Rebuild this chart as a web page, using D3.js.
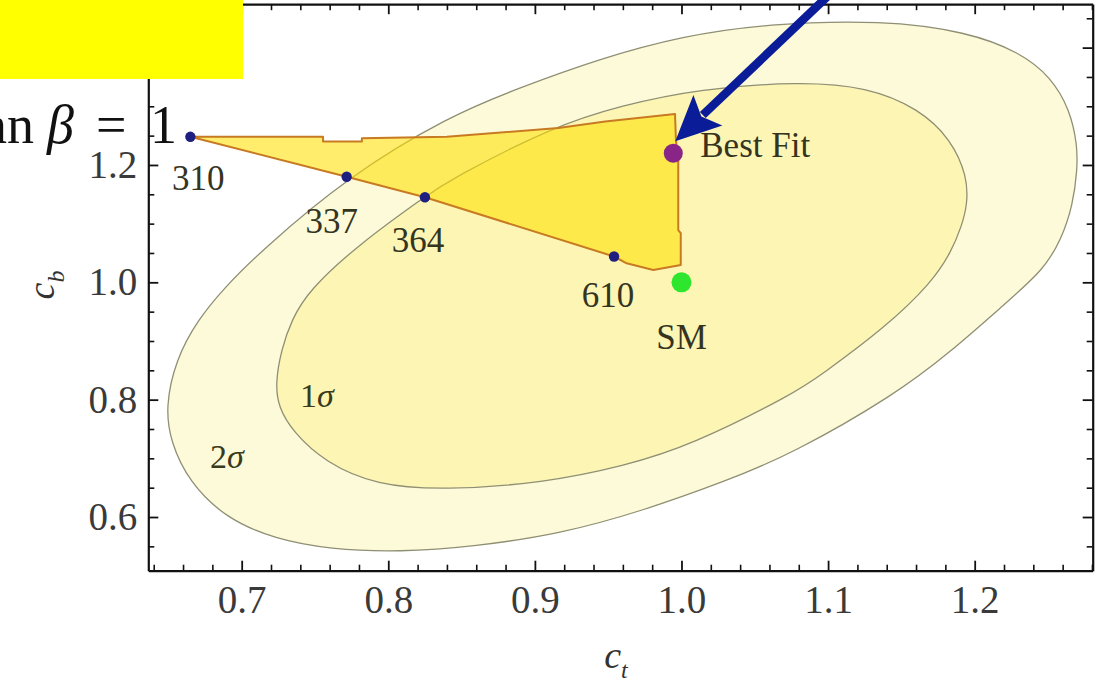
<!DOCTYPE html>
<html>
<head>
<meta charset="utf-8">
<script src="https://cdn.jsdelivr.net/npm/d3@7"></script>
<style>
  html, body { margin: 0; padding: 0; background: #ffffff; }
  svg { display: block; font-family: "Liberation Serif", "Times New Roman", serif; }
</style>
</head>
<body>
<svg id="chart" width="1105" height="682"></svg>
<script>
// ---- data -------------------------------------------------------------
const ctTicks = [0.7, 0.8, 0.9, 1.0, 1.1, 1.2];
const cbTicks = [0.6, 0.8, 1.0, 1.2, 1.4];
const ctRange = [0.6363, 1.2805];
const cbRange = [0.5085, 1.474];

// 2-sigma contour of the (c_t, c_b) fit
const contour2Sigma = [
  [0.648, 0.7875], [0.655, 0.868], [0.670, 0.936], [0.688, 0.990], [0.7125, 1.052],
  [0.772, 1.1795], [0.842, 1.284], [0.888, 1.330], [0.944, 1.381], [1.001, 1.420],
  [1.058, 1.4405], [1.137, 1.447], [1.195, 1.427], [1.231, 1.392], [1.252, 1.350],
  [1.265, 1.294], [1.270, 1.234], [1.270, 1.192], [1.267, 1.132], [1.259, 1.072],
  [1.2465, 1.020], [1.2207, 0.9635], [1.1831, 0.8805], [1.146, 0.809], [1.075, 0.707],
  [1.030, 0.661], [0.973, 0.610], [0.9165, 0.5707], [0.859, 0.550], [0.808, 0.540],
  [0.760, 0.545], [0.723, 0.562], [0.689, 0.598], [0.664, 0.660], [0.6515, 0.728]
];

// 1-sigma contour
const contour1Sigma = [
  [0.723, 0.828], [0.727, 0.885], [0.734, 0.936], [0.746, 0.987], [0.780, 1.065],
  [0.825, 1.146], [0.842, 1.175], [0.912, 1.265], [0.958, 1.301], [1.0126, 1.330],
  [1.081, 1.342], [1.1265, 1.333], [1.162, 1.296], [1.184, 1.2435], [1.195, 1.180],
  [1.195, 1.132], [1.191, 1.095], [1.184, 1.052], [1.171, 1.0005], [1.139, 0.923],
  [1.094, 0.840], [1.077, 0.811], [1.0065, 0.722], [0.961, 0.687], [0.906, 0.658],
  [0.838, 0.646], [0.792, 0.654], [0.757, 0.693], [0.735, 0.745], [0.725, 0.7875]
];

// region spanned by the benchmark models
const benchmarkRegion = [
  [0.665, 1.248], [0.7555, 1.248], [0.7555, 1.240], [0.782, 1.240], [0.782, 1.2455],
  [0.840, 1.248], [0.916, 1.263], [0.948, 1.274], [0.9956, 1.287], [0.9962, 1.2425],
  [0.9978, 1.2085], [0.9978, 1.089], [0.9995, 1.084], [0.9995, 1.0295], [0.9808, 1.021],
  [0.9626, 1.0324], [0.954, 1.044], [0.825, 1.145], [0.7716, 1.180]
];

const benchmarkNames = ["310", "337", "364", "610"];
const benchmarkCt = [0.665, 0.7716, 0.825, 0.954];
const benchmarkCb = [1.248, 1.180, 1.145, 1.044];
const bestFit = [0.9944, 1.220];
const smPoint = [1.0, 1.0];

const sigmaNames = ["1", "2"];
const sigmaCt = [0.7398, 0.6784];
const sigmaCb = [0.7875, 0.6835];

// ---- layout -----------------------------------------------------------
const serif = '"Liberation Serif", "Times New Roman", serif';
const plot = { left: 148.3, right: 1092.7, top: 4.2, bottom: 570.7 };
const svg = d3.select("#chart");

const x = d3.scaleLinear().domain(ctRange).range([plot.left, plot.right]);
const y = d3.scaleLinear().domain(cbRange).range([plot.bottom, plot.top]);

svg.append("defs").append("clipPath").attr("id", "plotClip")
  .append("rect")
  .attr("x", plot.left).attr("y", plot.top)
  .attr("width", plot.right - plot.left).attr("height", plot.bottom - plot.top);

const area = svg.append("g").attr("clip-path", "url(#plotClip)");

const closed = d3.line()
  .x(d => x(d[0])).y(d => y(d[1]))
  .curve(d3.curveBasisClosed);

// contour fills
area.append("path").attr("d", closed(contour2Sigma))
  .attr("fill", "#fcfad9");
area.append("path").attr("d", closed(contour1Sigma))
  .attr("fill", "#fdf5b4");

// contour lines
[contour2Sigma, contour1Sigma].forEach(c => {
  area.append("path").attr("d", closed(c))
    .attr("fill", "none")
    .attr("stroke", "#8f8f74")
    .attr("stroke-width", 1.3);
});

// benchmark region
const poly = d3.line().x(d => x(d[0])).y(d => y(d[1]));
area.append("path")
  .attr("d", poly(benchmarkRegion) + "Z")
  .attr("fill", "#ffe000")
  .attr("fill-opacity", 0.58)
  .attr("stroke", "#c87a22")
  .attr("stroke-width", 2)
  .attr("stroke-linejoin", "round");

// sigma labels
sigmaNames.forEach((n, i) => {
  const t = area.append("text")
    .attr("x", x(sigmaCt[i])).attr("y", y(sigmaCb[i]))
    .attr("font-size", 34).attr("fill", "#3a3a1c");
  t.append("tspan").text(n);
  t.append("tspan").attr("font-style", "italic").text("σ");
});

// benchmark points and labels
const labelShift = [[8, 53], [-15, 56], [-7, 55], [-6, 51]];
benchmarkNames.forEach((n, i) => {
  area.append("circle")
    .attr("cx", x(benchmarkCt[i])).attr("cy", y(benchmarkCb[i]))
    .attr("r", 5.2).attr("fill", "#1f1f80");
  area.append("text")
    .attr("x", x(benchmarkCt[i]) + labelShift[i][0])
    .attr("y", y(benchmarkCb[i]) + labelShift[i][1])
    .attr("text-anchor", "middle")
    .attr("font-size", 35).attr("fill", "#34341f")
    .text(n);
});

// best fit and Standard Model points
area.append("circle")
  .attr("cx", x(bestFit[0])).attr("cy", y(bestFit[1]))
  .attr("r", 9.5).attr("fill", "#8a2588");
area.append("text")
  .attr("x", x(bestFit[0]) + 27).attr("y", y(bestFit[1]) + 4)
  .attr("font-size", 35).attr("fill", "#34341f")
  .text("Best Fit");

area.append("circle")
  .attr("cx", x(smPoint[0])).attr("cy", y(smPoint[1]))
  .attr("r", 10).attr("fill", "#2ee62e");
area.append("text")
  .attr("x", x(smPoint[0])).attr("y", y(smPoint[1]) + 67)
  .attr("text-anchor", "middle")
  .attr("font-size", 35).attr("fill", "#34341f")
  .text("SM");

// ---- frame and ticks ---------------------------------------------------
const fmt = d3.format(".1f");
const ctMinor = d3.range(32, 65).filter(i => i % 5).map(i => i / 50);
const cbMinor = d3.range(11, 30).filter(i => i % 4).map(i => i / 20);

function styleAxis(g) {
  g.attr("font-family", serif);
  g.selectAll(".domain").attr("stroke", "#111").attr("stroke-width", 2.2);
  g.selectAll(".tick line").attr("stroke", "#111").attr("stroke-width", 1.8);
  g.selectAll(".tick text").attr("fill", "#3a3a3a").attr("font-size", 39)
    .attr("font-family", serif);
}
function minorOnly(g) {
  g.select(".domain").remove();
  g.selectAll(".tick line").attr("stroke", "#111").attr("stroke-width", 1.6);
}

// bottom
svg.append("g").attr("transform", `translate(0,${plot.bottom})`)
  .call(d3.axisBottom(x).tickValues(ctMinor).tickFormat("").tickSize(-6).tickSizeOuter(0))
  .call(minorOnly);
svg.append("g").attr("transform", `translate(0,${plot.bottom})`)
  .call(d3.axisBottom(x).tickValues(ctTicks).tickFormat(fmt).tickSize(-10).tickSizeOuter(0).tickPadding(15))
  .call(styleAxis);

// top
svg.append("g").attr("transform", `translate(0,${plot.top})`)
  .call(d3.axisTop(x).tickValues(ctMinor).tickFormat("").tickSize(-6).tickSizeOuter(0))
  .call(minorOnly);
svg.append("g").attr("transform", `translate(0,${plot.top})`)
  .call(d3.axisTop(x).tickValues(ctTicks).tickFormat("").tickSize(-10).tickSizeOuter(0))
  .call(styleAxis);

// left
svg.append("g").attr("transform", `translate(${plot.left},0)`)
  .call(d3.axisLeft(y).tickValues(cbMinor).tickFormat("").tickSize(-6).tickSizeOuter(0))
  .call(minorOnly);
svg.append("g").attr("transform", `translate(${plot.left},0)`)
  .call(d3.axisLeft(y).tickValues(cbTicks).tickFormat(fmt).tickSize(-10).tickSizeOuter(0).tickPadding(11))
  .call(styleAxis);

// right
svg.append("g").attr("transform", `translate(${plot.right},0)`)
  .call(d3.axisRight(y).tickValues(cbMinor).tickFormat("").tickSize(-6).tickSizeOuter(0))
  .call(minorOnly);
svg.append("g").attr("transform", `translate(${plot.right},0)`)
  .call(d3.axisRight(y).tickValues(cbTicks).tickFormat("").tickSize(-10).tickSizeOuter(0))
  .call(styleAxis);

// axis titles
const xTitle = svg.append("text")
  .attr("x", 616).attr("y", 668).attr("text-anchor", "middle")
  .attr("font-size", 38).attr("fill", "#333");
xTitle.append("tspan").attr("font-style", "italic").text("c");
xTitle.append("tspan").attr("font-style", "italic").attr("font-size", 24).attr("dy", 10).text("t");

const yTitle = svg.append("text")
  .attr("transform", "translate(54,285) rotate(-90)")
  .attr("text-anchor", "middle")
  .attr("font-size", 38).attr("fill", "#333");
yTitle.append("tspan").attr("font-style", "italic").text("c");
yTitle.append("tspan").attr("font-style", "italic").attr("font-size", 24).attr("dy", 10).text("b");

// ---- annotations -------------------------------------------------------
// arrow pointing at the best fit point
const tip = [x(bestFit[0]) + 2, y(bestFit[1]) - 12];
const tail = [830, -6];
const len = Math.hypot(tail[0] - tip[0], tail[1] - tip[1]);
const u = [(tail[0] - tip[0]) / len, (tail[1] - tip[1]) / len];
const nv = [-u[1], u[0]];
const headLen = 45, headHalf = 21, notch = 36;
const base = [tip[0] + u[0] * headLen, tip[1] + u[1] * headLen];
svg.append("line")
  .attr("x1", tail[0]).attr("y1", tail[1])
  .attr("x2", tip[0] + u[0] * (notch + 2)).attr("y2", tip[1] + u[1] * (notch + 2))
  .attr("stroke", "#0a1c98").attr("stroke-width", 8.5);
svg.append("path")
  .attr("d", d3.line()([
    tip,
    [base[0] + nv[0] * headHalf, base[1] + nv[1] * headHalf],
    [tip[0] + u[0] * notch, tip[1] + u[1] * notch],
    [base[0] - nv[0] * headHalf, base[1] - nv[1] * headHalf]
  ]) + "Z")
  .attr("fill", "#0a1c98");

// highlight box in the corner
svg.append("rect")
  .attr("x", 0).attr("y", 0).attr("width", 243).attr("height", 79)
  .attr("fill", "#ffff00");

// tan beta = 1, typeset piece by piece
const tbGroup = svg.append("g").attr("font-size", 54).attr("fill", "#111");
tbGroup.append("text").attr("x", 34).attr("y", 143).attr("text-anchor", "end").text("tan");
tbGroup.append("text").attr("x", 47).attr("y", 143).attr("font-style", "italic").text("β");
tbGroup.append("text").attr("x", 96).attr("y", 143).text("=");
tbGroup.append("text").attr("x", 150).attr("y", 143).text("1");
</script>
</body>
</html>
